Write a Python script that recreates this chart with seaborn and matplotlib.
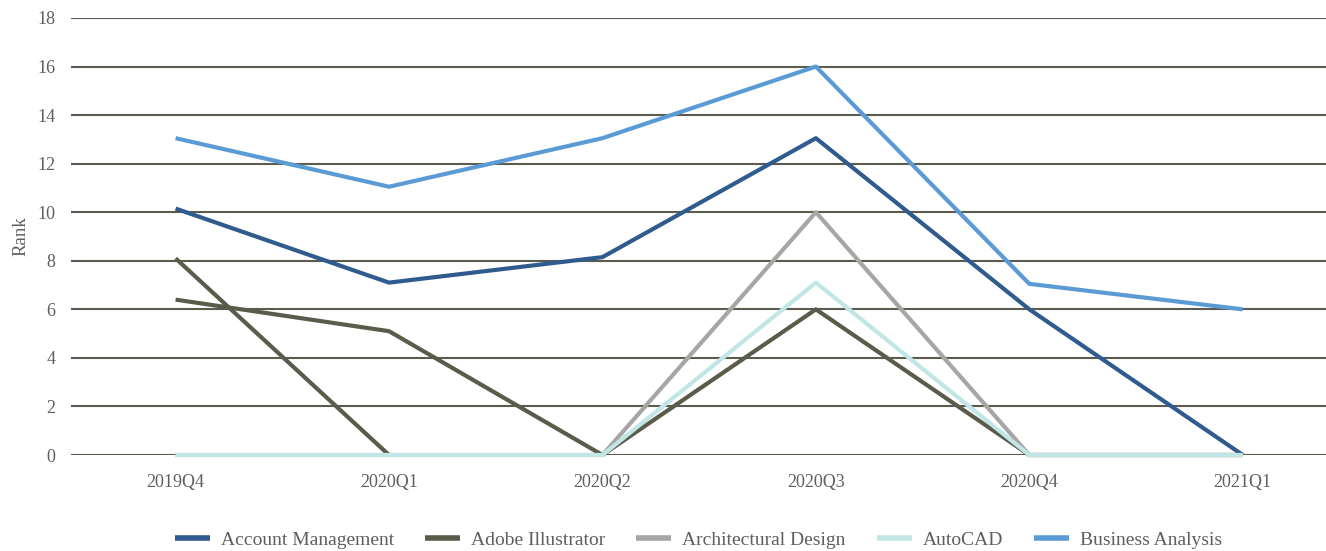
import numpy as np
import pandas as pd
import matplotlib
matplotlib.use("Agg")
import matplotlib.pyplot as plt
import seaborn as sns

# Quarterly rank of each skill
quarters = ["2019Q4", "2020Q1", "2020Q2", "2020Q3", "2020Q4", "2021Q1"]
account_management = [10.15, 7.1, 8.15, 13.05, 6.0, 0.0]
adobe_illustrator = [6.4, 5.1, 0.0, 6.0, 0.0, 0.0]
adobe_illustrator_second = [8.1, 0.0, None, None, None, None]
architectural_design = [0.0, 0.0, 0.0, 10.0, 0.0, 0.0]
autocad = [0.0, 0.0, 0.0, 7.1, 0.0, 0.0]
business_analysis = [13.05, 11.05, 13.05, 16.0, 7.05, 6.0]

skills = ["Account Management", "Adobe Illustrator", "Architectural Design",
          "AutoCAD", "Business Analysis"]
colors = ["#2f5b8f", "#5b5b4c", "#a6a6a6", "#c1e6e6", "#5b9bd5"]

series = [
    ("Account Management", 0, account_management),
    ("Adobe Illustrator", 0, adobe_illustrator),
    ("Adobe Illustrator", 1, adobe_illustrator_second),
    ("Architectural Design", 0, architectural_design),
    ("AutoCAD", 0, autocad),
    ("Business Analysis", 0, business_analysis),
]
rows = []
for skill, unit, values in series:
    for i, (q, v) in enumerate(zip(quarters, values)):
        if v is None:
            continue
        rows.append({"skill": skill, "unit": f"{skill}-{unit}", "pos": i,
                     "quarter": q, "rank": v})
df = pd.DataFrame(rows)

sns.set_theme(style="white")
plt.rcParams["font.family"] = ["Liberation Serif", "DejaVu Serif"]

fig = plt.figure(figsize=(13.26, 5.51), dpi=100)
ax = fig.add_axes([71 / 1326, 1 - 455 / 551, 1 - 71 / 1326, (455 - 18) / 551])

sns.lineplot(data=df, x="pos", y="rank", hue="skill", units="unit",
             estimator=None, hue_order=skills, palette=colors,
             linewidth=3.0, sort=False, ax=ax)
for ln in ax.lines:
    ln.set_clip_on(False)
    ln.set_solid_capstyle("butt")

grid_color = "#5b5b4e"
text_color = "#5e5e5e"
ax.set_ylim(0, 18)
ax.set_xlim(-0.49, 5.39)
ax.set_yticks(np.arange(0, 19, 2))
ax.set_xticks(range(len(quarters)))
ax.set_xticklabels(quarters)
ax.yaxis.grid(True, color=grid_color, linewidth=1.5)
ax.xaxis.grid(False)
ax.set_axisbelow(True)
for s in ax.spines.values():
    s.set_visible(False)
ax.tick_params(axis="both", length=0, labelsize=13, colors=text_color)
ax.tick_params(axis="x", pad=14)
ax.tick_params(axis="y", pad=11)
ax.set_xlabel("")
ax.set_ylabel("Rank", fontsize=13.5, color=text_color, labelpad=6)

handles, labels = ax.get_legend_handles_labels()
leg = ax.legend(handles, labels, loc="center", bbox_to_anchor=(0.5, -0.195),
                ncol=5, frameon=False, fontsize=14, handlelength=1.8,
                handletextpad=0.55, columnspacing=1.6)
for h in leg.get_lines():
    h.set_linewidth(4)
    h.set_solid_capstyle("butt")
for t in leg.get_texts():
    t.set_color(text_color)

fig.savefig("out.png", dpi=100, facecolor="white")
